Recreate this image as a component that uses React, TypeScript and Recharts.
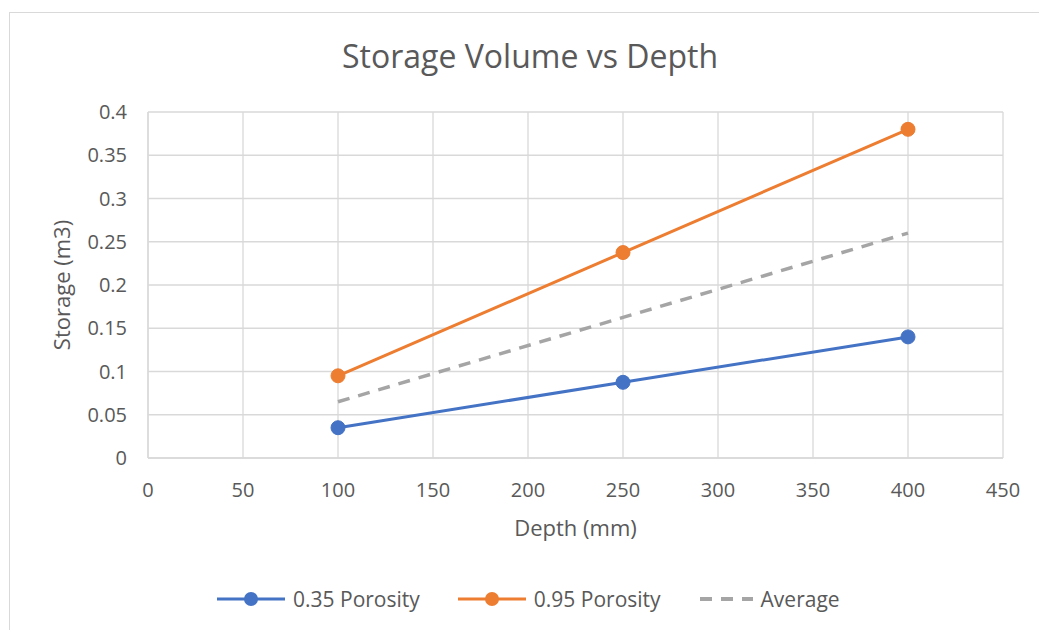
import { LineChart, Line, XAxis, YAxis, CartesianGrid } from "recharts";

const depths = [100, 250, 400];
const porosity035 = [0.035, 0.0875, 0.14];
const porosity095 = [0.095, 0.2375, 0.38];
const average = [0.065, 0.1625, 0.26];

const xTicks = [0, 50, 100, 150, 200, 250, 300, 350, 400, 450];
const yTicks = [0, 0.05, 0.1, 0.15, 0.2, 0.25, 0.3, 0.35, 0.4];

const FONT = "'Open Sans', sans-serif";
const TEXT = "#595959";
const GRID = "#d9d9d9";
const BLUE = "#4472c4";
const ORANGE = "#ed7d31";
const GRAY = "#a5a5a5";

const data = depths.map((d, i) => ({
  depth: d,
  p35: porosity035[i],
  p95: porosity095[i],
  avg: average[i],
}));

function LegendItem({ color, label, dashed }: { color: string; label: string; dashed?: boolean }) {
  return (
    <div style={{ display: "flex", alignItems: "center", marginRight: 38 }}>
      {dashed ? (
        <svg width={55} height={20} style={{ marginRight: 7 }}>
          <line x1={1} y1={10} x2={54} y2={10} stroke={color} strokeWidth={4} strokeDasharray="12 9" />
        </svg>
      ) : (
        <svg width={70} height={20} style={{ marginRight: 6 }}>
          <line x1={0} y1={10} x2={68} y2={10} stroke={color} strokeWidth={3} />
          <circle cx={34} cy={10} r={7} fill={color} />
        </svg>
      )}
      <span>{label}</span>
    </div>
  );
}

export default function App() {
  return (
    <div style={{ position: "absolute", left: 0, top: 0, width: 1039, height: 630, background: "#fff", overflow: "hidden", fontFamily: FONT }}>
      <div style={{ position: "absolute", left: 9, top: 12, width: 1100, height: 700, border: "1px solid #d9d9d9" }} />
      <div style={{ position: "absolute", left: 0, top: 34, width: 1060, textAlign: "center", fontSize: 32, color: TEXT }}>
        Storage Volume vs Depth
      </div>
      <div style={{ position: "absolute", left: 0, top: 0 }}>
        <LineChart width={1039} height={630} data={data} margin={{ top: 112, right: 36, left: 0, bottom: 72 }}>
          <CartesianGrid stroke={GRID} strokeWidth={1.3} />
          <XAxis
            dataKey="depth"
            type="number"
            domain={[0, 450]}
            ticks={xTicks}
            height={100}
            tickSize={0}
            tickMargin={25}
            axisLine={{ stroke: GRID, strokeWidth: 1.3 }}
            tick={{ fill: TEXT, fontSize: 20, fontFamily: FONT }}
            label={{
              content: (p: any) => (
                <text x={p.viewBox.x + p.viewBox.width / 2} y={p.viewBox.y + 78} textAnchor="middle" fill={TEXT} fontSize={22} fontFamily={FONT}>
                  Depth (mm)
                </text>
              ),
            }}
          />
          <YAxis
            type="number"
            domain={[0, 0.4]}
            ticks={yTicks}
            width={148}
            tickSize={0}
            tickMargin={21}
            axisLine={{ stroke: GRID, strokeWidth: 1.3 }}
            tick={{ fill: TEXT, fontSize: 20, fontFamily: FONT }}
            label={{
              content: (p: any) => {
                const cx = p.viewBox.x + 61;
                const cy = p.viewBox.y + p.viewBox.height / 2;
                return (
                  <text x={cx} y={cy} transform={`rotate(-90 ${cx} ${cy})`} textAnchor="middle" dominantBaseline="central" fill={TEXT} fontSize={22} fontFamily={FONT}>
                    Storage (m3)
                  </text>
                );
              },
            }}
          />
          <Line type="linear" dataKey="avg" stroke={GRAY} strokeWidth={3.5} strokeDasharray="12 9" dot={false} isAnimationActive={false} />
          <Line type="linear" dataKey="p35" stroke={BLUE} strokeWidth={3} dot={{ r: 7, fill: BLUE, stroke: BLUE, strokeWidth: 1 }} isAnimationActive={false} />
          <Line type="linear" dataKey="p95" stroke={ORANGE} strokeWidth={3} dot={{ r: 7, fill: ORANGE, stroke: ORANGE, strokeWidth: 1 }} isAnimationActive={false} />
        </LineChart>
      </div>
      <div style={{ position: "absolute", left: 217, top: 585, display: "flex", fontSize: 21, color: TEXT }}>
        <LegendItem color={BLUE} label="0.35 Porosity" />
        <LegendItem color={ORANGE} label="0.95 Porosity" />
        <LegendItem color={GRAY} label="Average" dashed />
      </div>
    </div>
  );
}
